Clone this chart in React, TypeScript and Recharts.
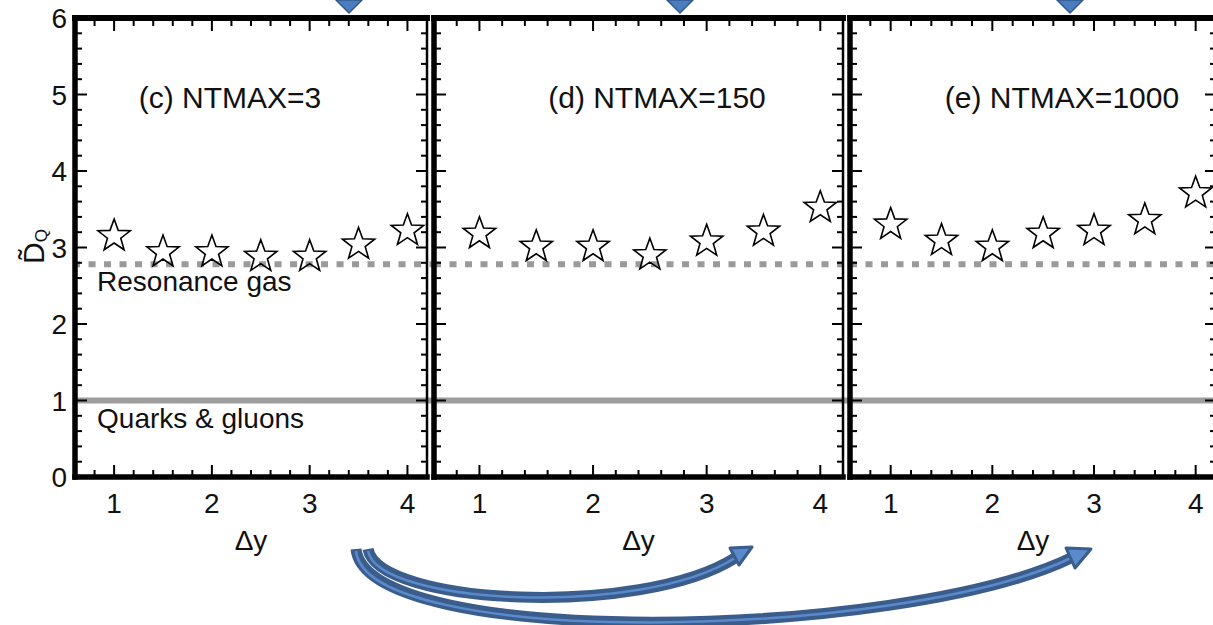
import React from "react";
import { ScatterChart, Scatter, XAxis, YAxis, ReferenceLine } from "recharts";

// values
const deltaY = [1, 1.5, 2, 2.5, 3, 3.5, 4];
const ntmax3 = [3.15, 2.94, 2.94, 2.88, 2.88, 3.04, 3.22];
const ntmax150 = [3.18, 3.01, 3.01, 2.9, 3.08, 3.21, 3.52];
const ntmax1000 = [3.3, 3.09, 3.01, 3.18, 3.22, 3.36, 3.71];
const panelTitles = ["(c) NTMAX=3", "(d) NTMAX=150", "(e) NTMAX=1000"];
const xTickLabels = [1, 2, 3, 4];
const yTickLabels = [0, 1, 2, 3, 4, 5, 6];
const resonanceGasLevel = 2.78;
const quarkGluonLevel = 1;
const lineLabels = ["Resonance gas", "Quarks & gluons"];

const panelSeries = [ntmax3, ntmax150, ntmax1000];

const X_DOMAIN: [number, number] = [0.6, 4.2];
const Y_DOMAIN: [number, number] = [0, 6];
// minor ticks every 0.2
const xTicks = Array.from({ length: 19 }, (_, i) => (6 + 2 * i) / 10);
const yTicks = Array.from({ length: 31 }, (_, i) => i / 5);

const FONT = '"Liberation Sans", Arial, Helvetica, sans-serif';
const H = 625;

const panelLayout = [
  { left: 0, width: 440, plotLeft: 75, plotRight: 427, lineFrom: 0.58, lineTo: 4.27, titleX: 230 },
  { left: 420, width: 436, plotLeft: 434, plotRight: 843, lineFrom: 0.6, lineTo: 4.27, titleX: 657 },
  { left: 836, width: 400, plotLeft: 850, plotRight: 1216, lineFrom: 0.6, lineTo: 4.2, titleX: 1062 },
];

const near = (list: number[], v: number) => list.some((l) => Math.abs(l - v) < 1e-6);

function BottomTick({ x, y, payload }: any) {
  const major = near(xTickLabels, payload.value);
  return (
    <g>
      <line x1={x} x2={x} y1={y} y2={y - (major ? 12 : 7)} stroke="#000" strokeWidth={2} />
      {major && (
        <text x={x} y={y + 36} textAnchor="middle" fontSize={28} fill="#111">
          {Math.round(payload.value)}
        </text>
      )}
    </g>
  );
}

function TopTick({ x, y, payload }: any) {
  const major = near(xTickLabels, payload.value);
  return <line x1={x} x2={x} y1={y} y2={y + (major ? 13 : 8)} stroke="#000" strokeWidth={2} />;
}

function LeftTick({ x, y, payload, showLabel }: any) {
  const major = near(yTickLabels, payload.value);
  return (
    <g>
      <line x1={x} x2={x + (major ? 12 : 7)} y1={y} y2={y} stroke="#000" strokeWidth={2} />
      {showLabel && major && (
        <text x={x - 8} y={y + 10} textAnchor="end" fontSize={28} fill="#111">
          {Math.round(payload.value)}
        </text>
      )}
    </g>
  );
}

function RightTick({ x, y, payload }: any) {
  const major = near(yTickLabels, payload.value);
  return <line x1={x} x2={x - (major ? 11 : 6)} y1={y} y2={y} stroke="#000" strokeWidth={2} />;
}

function Star({ cx, cy }: any) {
  const R = 17;
  const r = 7;
  const pts: string[] = [];
  for (let i = 0; i < 10; i++) {
    const a = -Math.PI / 2 + (i * Math.PI) / 5;
    const rad = i % 2 === 0 ? R : r;
    pts.push(`${cx + rad * Math.cos(a)},${cy + rad * Math.sin(a)}`);
  }
  return <polygon points={pts.join(" ")} fill="none" stroke="#000" strokeWidth={1.6} />;
}

const lineLabel = (text: string) => (props: any) => {
  const vb = props.viewBox || {};
  return (
    <text x={vb.x + 24} y={vb.y + 27} fontSize={28} fill="#111" fontFamily={FONT}>
      {text}
    </text>
  );
};

function Panel({ index }: { index: number }) {
  const lay = panelLayout[index];
  const values = panelSeries[index];
  const data = deltaY.map((x, i) => ({ x, y: values[i] }));
  const yAxisWidth = lay.plotLeft - lay.left;
  const right = lay.left + lay.width - 1 - lay.plotRight;
  const first = index === 0;

  return (
    <div style={{ position: "absolute", left: lay.left, top: 0 }}>
      <ScatterChart width={lay.width} height={H} margin={{ top: 17, right, bottom: 58, left: 0 }}>
        <XAxis
          type="number"
          dataKey="x"
          domain={X_DOMAIN}
          allowDataOverflow
          ticks={xTicks}
          interval={0}
          height={90}
          tickSize={0}
          tickMargin={0}
          tickLine={false}
          tick={(p: any) => <BottomTick {...p} />}
          axisLine={{ stroke: "#000", strokeWidth: 5.5, strokeLinecap: "square" }}
          label={{ value: "Δy", position: "insideBottom", offset: 17, fontSize: 28, fill: "#111" }}
        />
        <XAxis
          xAxisId="top"
          orientation="top"
          type="number"
          dataKey="x"
          domain={X_DOMAIN}
          allowDataOverflow
          ticks={xTicks}
          interval={0}
          height={1}
          tickSize={0}
          tickMargin={0}
          tickLine={false}
          tick={(p: any) => <TopTick {...p} />}
          axisLine={{ stroke: "#000", strokeWidth: 6, strokeLinecap: "square" }}
        />
        <YAxis
          type="number"
          dataKey="y"
          domain={Y_DOMAIN}
          allowDataOverflow
          ticks={yTicks}
          interval={0}
          width={yAxisWidth}
          tickSize={0}
          tickMargin={0}
          tickLine={false}
          tick={(p: any) => <LeftTick {...p} showLabel={first} />}
          axisLine={{ stroke: "#000", strokeWidth: 5.5, strokeLinecap: "square" }}
        />
        <YAxis
          yAxisId="right"
          orientation="right"
          type="number"
          dataKey="y"
          domain={Y_DOMAIN}
          allowDataOverflow
          ticks={yTicks}
          interval={0}
          width={1}
          tickSize={0}
          tickMargin={0}
          tickLine={false}
          tick={(p: any) => <RightTick {...p} />}
          axisLine={{ stroke: "#000", strokeWidth: 2.5 }}
        />
        <ReferenceLine
          segment={[
            { x: lay.lineFrom, y: resonanceGasLevel },
            { x: lay.lineTo, y: resonanceGasLevel },
          ]}
          ifOverflow="visible"
          stroke="#9a9a9a"
          strokeWidth={6}
          strokeDasharray="7 8.5"
          label={first ? lineLabel(lineLabels[0]) : undefined}
        />
        <ReferenceLine
          segment={[
            { x: lay.lineFrom, y: quarkGluonLevel },
            { x: lay.lineTo, y: quarkGluonLevel },
          ]}
          ifOverflow="visible"
          stroke="#9d9d9d"
          strokeWidth={6}
          label={first ? lineLabel(lineLabels[1]) : undefined}
        />
        <Scatter data={data} dataKey="y" shape={(p: any) => <Star {...p} />} isAnimationActive={false} />
      </ScatterChart>
    </div>
  );
}

// decorative blue arrows of the slide
function Overlay() {
  const dark = "#3a5d8c";
  const light = "#5a8acb";
  const chevrons = [349, 680, 1070];
  return (
    <svg
      width={1213}
      height={H}
      style={{ position: "absolute", left: 0, top: 0, pointerEvents: "none" }}
    >
      {chevrons.map((cx) => (
        <polygon
          key={cx}
          points={`${cx - 13},0 ${cx + 13},0 ${cx},13`}
          fill="#4a7cc0"
          stroke="#35598f"
          strokeWidth={1.5}
        />
      ))}
      {panelTitles.map((t, i) => (
        <text key={t} x={panelLayout[i].titleX} y={108} textAnchor="middle" fontSize={30} fill="#111" fontFamily={FONT}>
          {t}
        </text>
      ))}
      <text transform="translate(44,264) rotate(-90)" fontSize={30} fill="#111" fontFamily={FONT}>
        D̃<tspan fontSize={17} dy={3}>Q</tspan>
      </text>

      <path d="M 356 549 C 366 650, 900 640, 1071 558" fill="none" stroke={dark} strokeWidth={11} />
      <path d="M 356 551 C 366 650, 900 640, 1071 558" fill="none" stroke={light} strokeWidth={2.5} />
      <polygon points="1091,549 1075,568 1066,548" fill={light} stroke={dark} strokeWidth={3} strokeLinejoin="round" />

      <path d="M 368 549 C 378 605, 640 618, 735 558" fill="none" stroke={dark} strokeWidth={11} />
      <path d="M 368 551 C 378 605, 640 618, 735 558" fill="none" stroke={light} strokeWidth={2.5} />
      <polygon points="752,547 739,565 730,548" fill={light} stroke={dark} strokeWidth={3} strokeLinejoin="round" />
    </svg>
  );
}

export default function App() {
  return (
    <div
      style={{
        position: "absolute",
        left: 0,
        top: 0,
        width: 1213,
        height: H,
        overflow: "hidden",
        background: "#fff",
        fontFamily: FONT,
      }}
    >
      {panelSeries.map((_, i) => (
        <Panel key={i} index={i} />
      ))}
      <Overlay />
    </div>
  );
}
